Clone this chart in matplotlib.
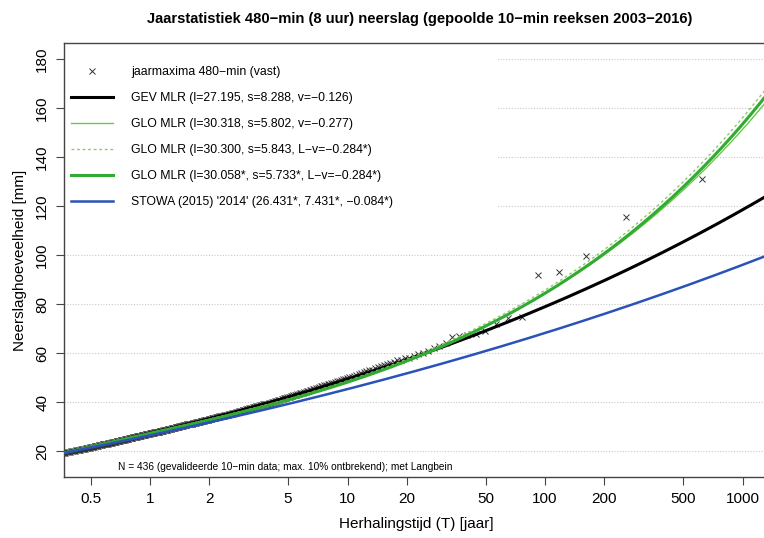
import numpy as np
import matplotlib
matplotlib.use("Agg")
import matplotlib.pyplot as plt
from matplotlib.patches import Rectangle

plt.rcParams['font.family'] = ['Liberation Sans', 'DejaVu Sans']

# gepoolde jaarmaxima 480-min [mm], gesorteerd van hoog naar laag (N = 436)
jaarmaxima = [
    131.0, 115.4, 99.8, 93.2, 92.0, 74.6, 74.2, 71.8, 69.0, 67.9,
    67.5, 67.0, 66.6, 64.0, 63.0, 62.0, 61.0, 60.2, 59.5, 58.8,
    58.2, 57.8, 57.3, 57.1, 56.5, 56.0, 55.7, 55.2, 54.6, 54.2,
    53.8, 53.3, 53.0, 52.5, 52.1, 51.7, 51.3, 50.9, 50.6, 50.2,
    50.1, 49.8, 49.5, 49.3, 49.0, 48.7, 48.5, 48.2, 48.0, 47.7,
    47.5, 47.3, 47.0, 46.8, 46.6, 46.4, 46.1, 45.9, 45.7, 45.4,
    45.2, 45.0, 44.8, 44.6, 44.5, 44.3, 44.1, 43.9, 43.7, 43.6,
    43.4, 43.2, 43.1, 42.9, 42.7, 42.6, 42.4, 42.2, 42.1, 41.9,
    41.8, 41.6, 41.5, 41.3, 41.2, 41.0, 40.9, 40.7, 40.6, 40.5,
    40.3, 40.2, 40.1, 39.9, 39.8, 39.7, 39.6, 39.4, 39.3, 39.2,
    39.3, 39.2, 39.1, 38.9, 38.8, 38.7, 38.6, 38.5, 38.4, 38.3,
    38.2, 38.1, 37.9, 37.8, 37.7, 37.6, 37.5, 37.4, 37.3, 37.2,
    37.1, 37.0, 36.9, 36.8, 36.7, 36.6, 36.5, 36.4, 36.3, 36.2,
    36.1, 36.0, 35.9, 35.8, 35.7, 35.6, 35.5, 35.5, 35.4, 35.3,
    35.2, 35.1, 35.1, 35.0, 34.9, 34.8, 34.7, 34.7, 34.6, 34.5,
    34.6, 34.5, 34.5, 34.4, 34.3, 34.2, 34.2, 34.1, 34.0, 33.9,
    33.9, 33.8, 33.7, 33.6, 33.6, 33.5, 33.4, 33.4, 33.3, 33.2,
    33.1, 33.1, 33.0, 32.9, 32.9, 32.8, 32.7, 32.6, 32.6, 32.5,
    32.4, 32.4, 32.3, 32.2, 32.2, 32.1, 32.0, 32.0, 31.9, 31.8,
    31.8, 31.7, 31.7, 31.6, 31.5, 31.5, 31.4, 31.4, 31.3, 31.2,
    31.2, 31.2, 31.1, 31.1, 31.0, 31.0, 30.9, 30.9, 30.9, 30.8,
    30.7, 30.7, 30.6, 30.6, 30.5, 30.4, 30.4, 30.3, 30.3, 30.2,
    30.1, 30.1, 30.0, 30.0, 29.9, 29.8, 29.8, 29.7, 29.7, 29.6,
    29.5, 29.5, 29.4, 29.4, 29.3, 29.3, 29.2, 29.1, 29.1, 29.0,
    29.0, 28.9, 28.9, 28.8, 28.8, 28.7, 28.7, 28.6, 28.6, 28.5,
    28.5, 28.4, 28.4, 28.3, 28.3, 28.2, 28.1, 28.1, 28.0, 28.0,
    27.9, 27.9, 27.8, 27.8, 27.7, 27.7, 27.6, 27.6, 27.5, 27.5,
    27.4, 27.4, 27.3, 27.3, 27.2, 27.2, 27.1, 27.1, 27.0, 27.0,
    26.9, 26.9, 26.8, 26.8, 26.7, 26.7, 26.6, 26.6, 26.5, 26.5,
    26.4, 26.4, 26.3, 26.3, 26.2, 26.2, 26.1, 26.1, 26.0, 26.0,
    25.9, 25.9, 25.8, 25.8, 25.7, 25.7, 25.6, 25.6, 25.5, 25.5,
    25.4, 25.4, 25.3, 25.2, 25.2, 25.1, 25.1, 25.0, 25.0, 24.9,
    24.9, 24.8, 24.7, 24.7, 24.6, 24.6, 24.5, 24.5, 24.4, 24.4,
    24.3, 24.2, 24.2, 24.1, 24.1, 24.0, 24.0, 23.9, 23.8, 23.8,
    23.7, 23.7, 23.6, 23.6, 23.5, 23.5, 23.4, 23.4, 23.3, 23.3,
    23.2, 23.1, 23.1, 23.0, 23.0, 22.9, 22.8, 22.8, 22.7, 22.7,
    22.6, 22.5, 22.5, 22.4, 22.4, 22.3, 22.2, 22.2, 22.1, 22.0,
    22.0, 21.9, 21.8, 21.8, 21.7, 21.6, 21.6, 21.5, 21.4, 21.4,
    21.3, 21.2, 21.2, 21.1, 21.0, 21.0, 20.9, 20.8, 20.8, 20.7,
    20.6, 20.5, 20.5, 20.4, 20.3, 20.3, 20.2, 20.1, 20.1, 20.0,
    19.9, 19.8, 19.7, 19.7, 19.6, 19.5, 19.4, 19.3, 19.2, 19.1,
    19.0, 18.9, 18.8, 18.7, 18.6, 18.5, 18.3, 18.2, 18.1, 17.9,
    17.8, 17.6, 17.5, 17.3, 17.1, 16.9, 16.7, 16.5, 16.2, 15.9,
    15.6, 15.3, 14.9, 14.5, 14.0, 13.4,
]

# parameters (locatie, schaal, vorm)
gev_mlr = (27.195, 8.288, -0.126)
glo_mlr = (30.318, 5.802, -0.277)
glo_mlr_lv = (30.300, 5.843, -0.284)
glo_mlr_vast = (30.058, 5.733, -0.284)
stowa_2014 = (26.431, 7.431, -0.084)

xticks = [0.5, 1, 2, 5, 10, 20, 50, 100, 200, 500, 1000]
yticks = [20, 40, 60, 80, 100, 120, 140, 160, 180]


def gev_q(T, loc, scale, shape):
    # -ln F = 1/T (Langbein)
    return loc + scale / shape * (1 - (1.0 / T) ** shape)


def glo_q(T, loc, scale, shape):
    odds = np.expm1(1.0 / T)  # (1-F)/F met F = exp(-1/T)
    return loc + scale / shape * (1 - odds ** shape)


# plotposities (Benard/median rank) omgezet met Langbein
x = np.array(jaarmaxima)
n = len(x)
rank = np.arange(1, n + 1)
t_ann = (n + 0.4) / (rank - 0.3)
t_pds = -1.0 / np.log(1 - 1.0 / t_ann)

xmin, xmax = 10 ** -0.433, 10 ** 3.132
tt = np.geomspace(xmin, xmax, 400)

fig = plt.figure(figsize=(7.64, 5.38), dpi=100)
ax = fig.add_axes([0.0844, 0.1134, 0.9216, 0.8067])

for yv in yticks:
    ax.axhline(yv, color='#c8c8c8', lw=0.8, ls=(0, (1, 1.5)), zorder=0)
ax.add_patch(Rectangle((0, 0.6), 0.615, 0.45, transform=ax.transAxes,
                       facecolor='white', edgecolor='none', zorder=1))

ax.plot(t_pds, x, ls='none', marker='x', ms=4.5, mew=0.7, color='#333333',
        zorder=2, label='jaarmaxima 480\u2212min (vast)')
ax.plot(tt, gev_q(tt, *gev_mlr), color='black', lw=2.2, zorder=3,
        label='GEV MLR (l=27.195, s=8.288, v=\u22120.126)')
ax.plot(tt, glo_q(tt, *glo_mlr), color='#66cc44', lw=1.0, zorder=4,
        label='GLO MLR (l=30.318, s=5.802, v=\u22120.277)')
ax.plot(tt, glo_q(tt, *glo_mlr_lv), color='#88cc66', lw=1.0, ls=(0, (2, 2)),
        zorder=4, label='GLO MLR (l=30.300, s=5.843, L\u2212v=\u22120.284*)')
ax.plot(tt, glo_q(tt, *glo_mlr_vast), color='#33aa33', lw=2.2, zorder=4,
        label='GLO MLR (l=30.058*, s=5.733*, L\u2212v=\u22120.284*)')
ax.plot(tt, gev_q(tt, *stowa_2014), color='#2a52b8', lw=1.8, zorder=5,
        label="STOWA (2015) '2014' (26.431*, 7.431*, \u22120.084*)")

ax.set_xscale('log')
ax.set_xlim(xmin, xmax)
ax.set_ylim(9.44, 186.56)
ax.set_xticks(xticks)
ax.set_xticklabels([str(v) for v in xticks])
ax.xaxis.set_minor_locator(matplotlib.ticker.NullLocator())
ax.set_yticks(yticks)
ax.set_yticklabels([str(v) for v in yticks], rotation=90, va='center')
ax.tick_params(direction='out', length=6, width=0.8, color='#444444',
               labelsize=11, pad=5)
for s in ax.spines.values():
    s.set_color('#444444')
    s.set_linewidth(1.0)

ax.set_xlabel('Herhalingstijd (T) [jaar]', fontsize=11, labelpad=8)
ax.set_ylabel('Neerslaghoeveelheid [mm]', fontsize=11, labelpad=6)
fig.suptitle('Jaarstatistiek 480\u2212min (8 uur) neerslag (gepoolde 10\u2212min reeksen 2003\u22122016)',
             x=0.549, y=0.978, fontsize=10.6, fontweight='bold')

ax.legend(loc='upper left', bbox_to_anchor=(0.003, 0.958), frameon=False,
          fontsize=8.8, handlelength=3.4, handletextpad=1.5, labelspacing=1.15,
          borderaxespad=0.0, borderpad=0.4)

ax.text(0.076, 0.024, 'N = 436 (gevalideerde 10\u2212min data; max. 10% ontbrekend); met Langbein',
        transform=ax.transAxes, fontsize=7.3, ha='left', va='center')

fig.savefig('out.png', dpi=100)
